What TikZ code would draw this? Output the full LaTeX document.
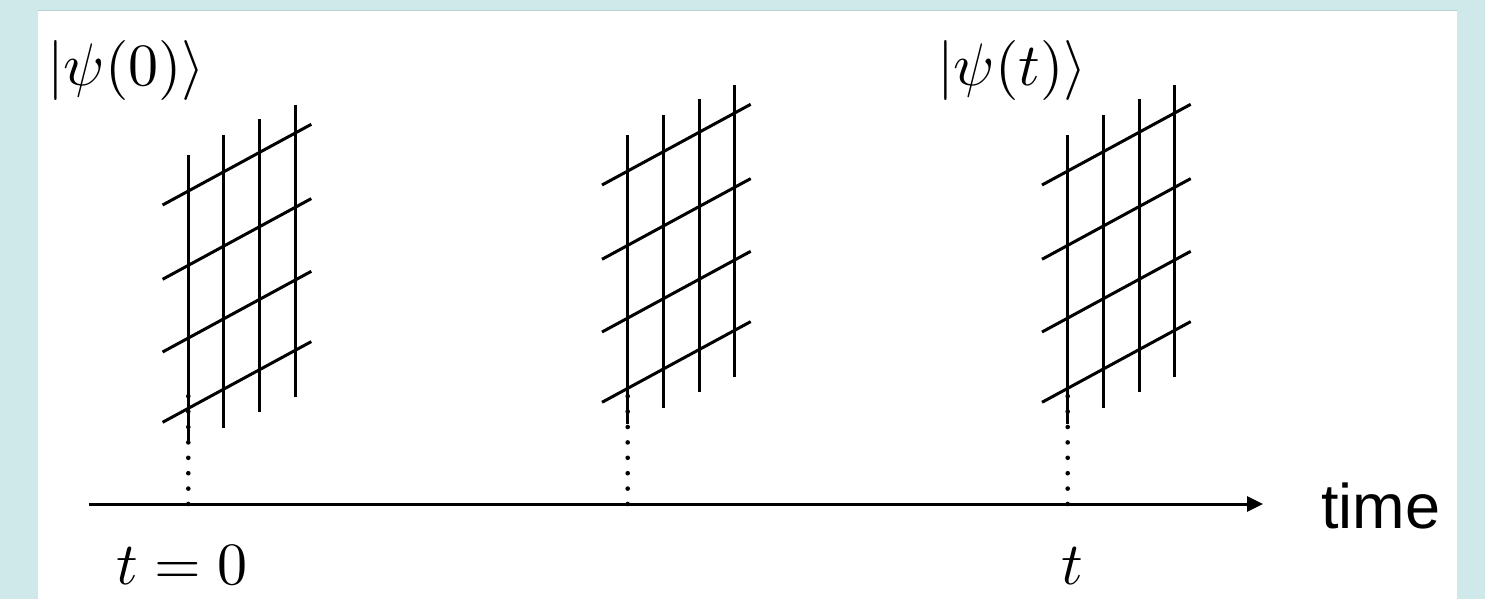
\documentclass[tikz,border=0pt]{standalone}
\usepackage{fontspec}
\newfontfamily\timefont{Liberation Sans}
\usetikzlibrary{arrows.meta}
\definecolor{bgcyan}{RGB}{207,232,234}
\definecolor{edgegray}{RGB}{185,205,207}
\tikzset{
  gridline/.style={line width=3pt, black},
  axisline/.style={line width=3pt, -{Triangle[length=16pt,width=15pt]}},
  dotline/.style={line width=4.6pt, line cap=round, dash pattern=on 0pt off 15.4pt},
  mathlabel/.style={inner sep=0pt, anchor=base west, scale=6, font=\fontsize{10}{12}\selectfont},
  timelabel/.style={inner sep=0pt, anchor=base west, font=\timefont\fontsize{63}{70}\selectfont},
}
\newcommand{\latgrid}[2]{%
  \foreach \dx/\ya/\yb in {0/135/424, 35.5/115/408, 71.3/99/392, 107.2/85/377}
    \draw[gridline] (#1+\dx, \ya+#2) -- (#1+\dx, \yb+#2);
  \foreach \yl in {185, 259.3, 332, 402.3}
    \draw[gridline] (#1-25.7, \yl+#2) -- (#1+123, \yl-80.7+#2);
}
\begin{document}
\begin{tikzpicture}[x=1pt, y=-1pt]
  \useasboundingbox (0,0) rectangle (1485,599);
  \fill[bgcyan] (0,0) rectangle (1485,599);
  \fill[white] (38,10) rectangle (1457,599);
  \draw[edgegray, line width=0.8pt] (38,10) -- (1457,10);

  % lattices
  \latgrid{188.3}{20}
  \latgrid{627.7}{0}
  \latgrid{1067.7}{0}

  % axis
  \coordinate (axL) at (89,504);
  \coordinate (axR) at (1263,504);
  \draw[axisline] (axL) -- (axR);

  % dotted drops
  \coordinate (t0) at (188.3,504);
  \coordinate (t1) at (627.7,504);
  \coordinate (t2) at (1067.7,504);
  \coordinate (d0) at (188.3,392);
  \coordinate (d1) at (627.7,392);
  \coordinate (d2) at (1067.7,392);
  \draw[dotline] (t0) -- (d0);
  \draw[dotline] (t1) -- (d1);
  \draw[dotline] (t2) -- (d2);

  % labels
  \node[mathlabel] (psi0) at (46,86) {$|\psi(0)\rangle$};
  \node[mathlabel] (psit) at (936,86) {$|\psi(t)\rangle$};
  \node[mathlabel] (tzero) at (115,584) {$t=0$};
  \node[mathlabel] (tt) at (1060,584) {$t$};
  \node[timelabel] (time) at (1321,528) {time};
\end{tikzpicture}
\end{document}
